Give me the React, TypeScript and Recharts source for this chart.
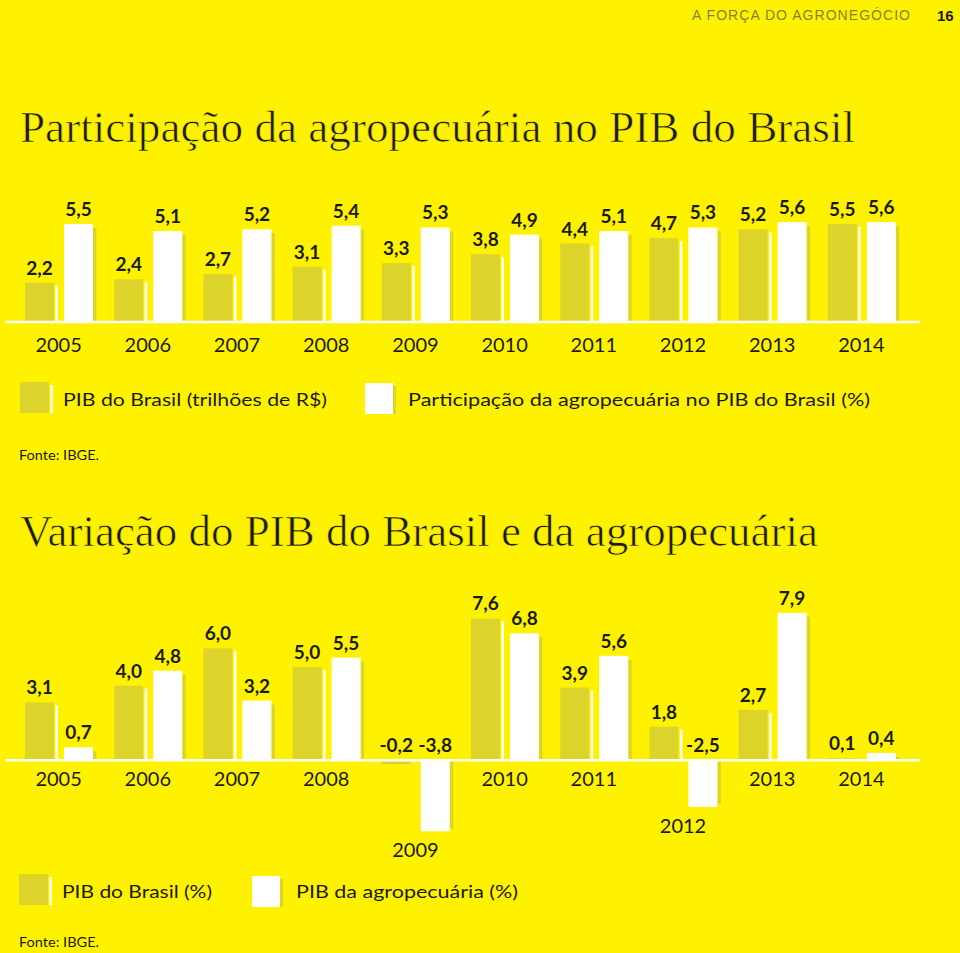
import React from 'react';
import { BarChart, Bar, XAxis, YAxis, ReferenceLine, LabelList } from 'recharts';

// ---------- data ----------
const YEARS = ['2005', '2006', '2007', '2008', '2009', '2010', '2011', '2012', '2013', '2014'];
const PIB_TRILHOES = [2.2, 2.4, 2.7, 3.1, 3.3, 3.8, 4.4, 4.7, 5.2, 5.5];
const PARTICIPACAO_AGRO = [5.5, 5.1, 5.2, 5.4, 5.3, 4.9, 5.1, 5.3, 5.6, 5.6];
const VAR_PIB_BRASIL = [3.1, 4.0, 6.0, 5.0, -0.2, 7.6, 3.9, 1.8, 2.7, 0.1];
const VAR_PIB_AGRO = [0.7, 4.8, 3.2, 5.5, -3.8, 6.8, 5.6, -2.5, 7.9, 0.4];

const TITLE_1 = 'Participação da agropecuária no PIB do Brasil';
const TITLE_2 = 'Variação do PIB do Brasil e da agropecuária';
const LEGEND_1 = ['PIB do Brasil (trilhões de R$)', 'Participação da agropecuária no PIB do Brasil (%)'];
const LEGEND_2 = ['PIB do Brasil (%)', 'PIB da agropecuária (%)'];
const SOURCE = 'Fonte: IBGE.';
const HEADER = 'A FORÇA DO AGRONEGÓCIO';
const PAGE = '16';

const data1 = YEARS.map((year, i) => ({ year, pib: PIB_TRILHOES[i], part: PARTICIPACAO_AGRO[i] }));
const data2 = YEARS.map((year, i) => ({ year, pib: VAR_PIB_BRASIL[i], agro: VAR_PIB_AGRO[i] }));

// ---------- style ----------
const YELLOW = '#FFF200';
const OLIVE = '#DDD42B';
const WHITE = '#FFFFFF';
const INK = '#1b1b17';
const SANS = 'Lato, "Open Sans", sans-serif';
const SERIF = '"Liberation Serif", "DejaVu Serif", serif';

// chart layout
const W = 960;
const C1 = { top: 180, height: 200, margin: { top: 35, right: 40, bottom: 18, left: 5 }, xh: 40, domain: [0, 6] as [number, number] };
const C2 = { top: 560, height: 320, margin: { top: 51, right: 40, bottom: 5, left: 5 }, xh: 40, domain: [-4, 8] as [number, number] };
const plotH = (c: typeof C1) => c.height - c.margin.top - c.margin.bottom - c.xh;

const fmt = (v: number) => v.toFixed(1).replace('.', ',');

const makeShape = (kind: 'olive' | 'white', key: string) => (p: any) => {
  const x = Number(p.x), y = Number(p.y), w = Number(p.width), hh = Number(p.height);
  const top = Math.min(y, y + hh);
  const h = Math.abs(hh);
  const v = p.payload ? p.payload[key] : 0;
  const neg = v < 0;
  if (kind === 'olive') {
    const sTop = neg ? top : top + 3;
    const sH = neg ? Math.max(0, h - 2) : Math.max(0, h - 3);
    return (
      <g>
        <rect x={x} y={top} width={w} height={h} fill={OLIVE} />
        <rect x={x + w + 1.5} y={sTop} width={2.5} height={sH} fill={WHITE} />
      </g>
    );
  }
  const sTop = neg ? top : top + 4;
  const sH = neg ? Math.max(0, h - 3) : Math.max(0, h - 4);
  return (
    <g>
      <rect x={x + w} y={sTop} width={3.5} height={sH} fill={OLIVE} />
      <rect x={x} y={top} width={w} height={h} fill={WHITE} />
    </g>
  );
};

const renderValueLabel = (props: any) => {
  const vb = props.viewBox || {};
  const x = Number(props.x ?? vb.x);
  const y = Number(props.y ?? vb.y);
  const w = Number(props.width ?? vb.width);
  const h = Number(props.height ?? vb.height);
  const top = Math.min(y, y + h);
  const v = Number(props.value);
  return (
    <text x={x + w / 2} y={top - 8} textAnchor="middle" fontFamily={SANS} fontWeight={700} fontSize={19} fill={INK}>
      {fmt(v)}
    </text>
  );
};

const Tick1 = (props: any) => {
  const { x, y, payload } = props;
  return (
    <text x={x} y={y + 22} textAnchor="middle" dominantBaseline="central" fontFamily={SANS} fontSize={20} fill={INK}>
      {payload.value}
    </text>
  );
};

const Tick2 = (props: any) => {
  const { x, y, payload } = props;
  const [dMin, dMax] = C2.domain;
  const ppu = plotH(C2) / (dMax - dMin);
  const baseline = y - (0 - dMin) * ppu;
  const i = YEARS.indexOf(String(payload.value));
  const gMin = Math.min(0, VAR_PIB_BRASIL[i], VAR_PIB_AGRO[i]);
  const bottom = baseline - gMin * ppu;
  return (
    <text x={x} y={bottom + 18} textAnchor="middle" dominantBaseline="central" fontFamily={SANS} fontSize={20} fill={INK}>
      {payload.value}
    </text>
  );
};

const LegendSwatch = ({ x, y, kind }: { x: number; y: number; kind: 'olive' | 'white' }) =>
  kind === 'olive' ? (
    <g>
      <rect x={x} y={y} width={29} height={31} fill={OLIVE} />
      <rect x={x + 30.5} y={y + 3} width={2.5} height={28} fill={WHITE} />
    </g>
  ) : (
    <g>
      <rect x={x + 28} y={y + 3} width={3} height={28} fill={OLIVE} />
      <rect x={x} y={y} width={28} height={31} fill={WHITE} />
    </g>
  );

export default function App() {
  return (
    <div style={{ position: 'absolute', left: 0, top: 0, width: W, height: 953, background: YELLOW, overflow: 'hidden' }}>
      <svg width={W} height={953} style={{ position: 'absolute', left: 0, top: 0 }}>
        <text x={692} y={20} fontFamily='"Liberation Sans", Arial, sans-serif' fontSize={14} fill="#86812f" textLength={218} lengthAdjust="spacing">
          {HEADER}
        </text>
        <text x={937} y={21} fontFamily='"Liberation Sans", Arial, sans-serif' fontWeight={700} fontSize={15} fill={INK}>
          {PAGE}
        </text>

        <text x={20} y={142} fontFamily={SERIF} fontSize={45} fill={INK} stroke={YELLOW} strokeWidth={0.7} textLength={835} lengthAdjust="spacingAndGlyphs">
          {TITLE_1}
        </text>

        <LegendSwatch x={20} y={382} kind="olive" />
        <text x={63} y={406} fontFamily={SANS} fontSize={18} fill={INK} textLength={264} lengthAdjust="spacingAndGlyphs">
          {LEGEND_1[0]}
        </text>
        <LegendSwatch x={365} y={383} kind="white" />
        <text x={408} y={406} fontFamily={SANS} fontSize={18} fill={INK} textLength={462} lengthAdjust="spacingAndGlyphs">
          {LEGEND_1[1]}
        </text>
        <text x={19} y={460} fontFamily={SANS} fontSize={14} fill={INK} textLength={80} lengthAdjust="spacingAndGlyphs">
          {SOURCE}
        </text>

        <text x={20} y={546} fontFamily={SERIF} fontSize={45} fill={INK} stroke={YELLOW} strokeWidth={0.7} textLength={798} lengthAdjust="spacingAndGlyphs">
          {TITLE_2}
        </text>

        <LegendSwatch x={19} y={874} kind="olive" />
        <text x={62} y={898} fontFamily={SANS} fontSize={18} fill={INK} textLength={150} lengthAdjust="spacingAndGlyphs">
          {LEGEND_2[0]}
        </text>
        <LegendSwatch x={252} y={876} kind="white" />
        <text x={296} y={898} fontFamily={SANS} fontSize={18} fill={INK} textLength={222} lengthAdjust="spacingAndGlyphs">
          {LEGEND_2[1]}
        </text>
        <text x={19} y={947} fontFamily={SANS} fontSize={14} fill={INK} textLength={80} lengthAdjust="spacingAndGlyphs">
          {SOURCE}
        </text>
      </svg>

      <div style={{ position: 'absolute', left: 0, top: C1.top }}>
        <BarChart width={W} height={C1.height} data={data1} margin={C1.margin} barGap={10}>
          <YAxis hide domain={C1.domain} allowDataOverflow />
          <XAxis
            dataKey="year"
            height={C1.xh}
            axisLine={false}
            tickLine={false}
            tickSize={0}
            tickMargin={0}
            interval={0}
            padding={{ left: 9, right: 14 }}
            tick={<Tick1 />}
          />
          <Bar dataKey="pib" barSize={29} isAnimationActive={false} shape={makeShape('olive', 'pib')}>
            <LabelList dataKey="pib" content={renderValueLabel} />
          </Bar>
          <Bar dataKey="part" barSize={29} isAnimationActive={false} shape={makeShape('white', 'part')}>
            <LabelList dataKey="part" content={renderValueLabel} />
          </Bar>
          <ReferenceLine y={0} stroke={WHITE} strokeWidth={2.5} />
        </BarChart>
      </div>

      <div style={{ position: 'absolute', left: 0, top: C2.top }}>
        <BarChart width={W} height={C2.height} data={data2} margin={C2.margin} barGap={10}>
          <YAxis hide domain={C2.domain} allowDataOverflow />
          <XAxis
            dataKey="year"
            height={C2.xh}
            axisLine={false}
            tickLine={false}
            tickSize={0}
            tickMargin={0}
            interval={0}
            padding={{ left: 9, right: 14 }}
            tick={<Tick2 />}
          />
          <Bar dataKey="pib" barSize={29} isAnimationActive={false} shape={makeShape('olive', 'pib')}>
            <LabelList dataKey="pib" content={renderValueLabel} />
          </Bar>
          <Bar dataKey="agro" barSize={29} isAnimationActive={false} shape={makeShape('white', 'agro')}>
            <LabelList dataKey="agro" content={renderValueLabel} />
          </Bar>
          <ReferenceLine y={0} stroke={WHITE} strokeWidth={2.5} />
        </BarChart>
      </div>
    </div>
  );
}
